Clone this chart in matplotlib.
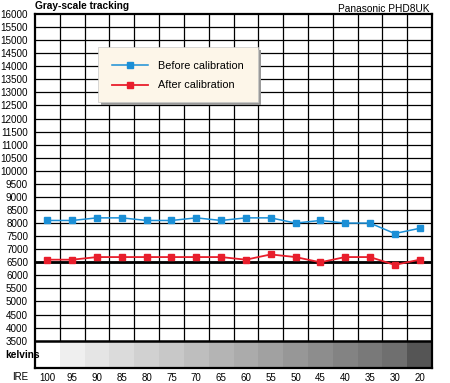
import matplotlib.pyplot as plt
from matplotlib.patches import Rectangle
import numpy as np

plt.rcParams["font.family"] = ["Liberation Sans", "DejaVu Sans"]

ire = ["100", "95", "90", "85", "80", "75", "70", "65",
       "60", "55", "50", "45", "40", "35", "30", "20"]
before_k = [8100, 8100, 8200, 8200, 8100, 8100, 8200, 8100,
            8200, 8200, 8000, 8100, 8000, 8000, 7600, 7800]
after_k = [6600, 6600, 6700, 6700, 6700, 6700, 6700, 6700,
           6600, 6800, 6700, 6500, 6700, 6700, 6400, 6600]
yticks = np.arange(3500, 16001, 500)
ref_k = 6500

# gray patches in the strip under the chart
grays = ["#ffffff", "#efefef", "#e5e5e5", "#dbdbdb", "#d1d1d1", "#c8c8c8",
         "#bebebe", "#b4b4b4", "#ababab", "#a1a1a1", "#979797", "#8d8d8d",
         "#838383", "#797979", "#6f6f6f", "#555555"]

blue = "#1b8fd6"
red = "#e81e2c"
fs = 7.3

fig = plt.figure(figsize=(4.5, 3.83), dpi=100)
ax = fig.add_axes([35 / 450, 1 - 368 / 383, 397 / 450, 354 / 383])
ybot = 3500 - (368 - 340.7) / 326.7 * 12500
ax.set_xlim(-0.5, len(ire) - 0.5)
ax.set_ylim(ybot, 16000)

x = np.arange(len(ire))

# grid
ax.hlines(yticks[1:-1], -0.5, len(ire) - 0.5, color="black", lw=0.9, zorder=1)
ax.hlines([ref_k], -0.5, len(ire) - 0.5, color="black", lw=2.0, zorder=1)
ax.vlines(np.arange(len(ire) - 1) + 0.5, 3500, 16000, color="black", lw=0.9, zorder=1)

# gray strip
for i, g in enumerate(grays):
    ax.add_patch(Rectangle((i - 0.5, ybot), 1, 3500 - ybot, facecolor=g,
                           edgecolor="none", zorder=0))
ax.hlines([3500], -0.5, len(ire) - 0.5, color="black", lw=1.8, zorder=2)

ax.plot(x, before_k, color=blue, lw=1.1, marker="s", ms=3.8, zorder=3,
        label="Before calibration")
ax.plot(x, after_k, color=red, lw=1.3, marker="s", ms=3.8, zorder=3,
        label="After calibration")

for s in ax.spines.values():
    s.set_linewidth(1.6)

ax.set_yticks(yticks)
ax.set_yticklabels([str(v) for v in yticks], fontsize=7.1)
ax.set_xticks(x)
ax.set_xticklabels(ire, fontsize=7)
ax.tick_params(length=0, axis="y", pad=5)
ax.tick_params(length=0, axis="x", pad=3.5)

fig.text(20 / 450, 1 - 377 / 383, "IRE", fontsize=7, ha="center", va="center")
fig.text(5 / 450, 1 - 355 / 383, "kelvins", fontsize=fs, fontweight="bold",
         ha="left", va="center")
fig.text(35 / 450, 1 - 6 / 383, "Gray-scale tracking", fontsize=fs,
         fontweight="bold", ha="left", va="center")
fig.text(430 / 450, 1 - 9 / 383, "Panasonic PHD8UK", fontsize=fs,
         ha="right", va="center")

# legend box with shadow
bx, by, bw, bh = 98 / 450, 1 - 102 / 383, 160 / 450, 55 / 383
fig.patches.append(Rectangle((bx + 3 / 450, by - 3 / 383), bw, bh,
                             transform=fig.transFigure, facecolor="#9a9a9a",
                             edgecolor="none", zorder=4))
fig.patches.append(Rectangle((bx, by), bw, bh, transform=fig.transFigure,
                             facecolor="#fdf6e9", edgecolor="#c8c8c8",
                             lw=0.5, zorder=5))
leg = fig.legend(loc="upper left", bbox_to_anchor=(104 / 450, 1 - 53 / 383),
                 frameon=False, fontsize=fs + 0.5, handlelength=3.4,
                 handletextpad=0.9, labelspacing=0.9, borderpad=0.2)
leg.set_zorder(6)

plt.savefig("out.png", dpi=100)
